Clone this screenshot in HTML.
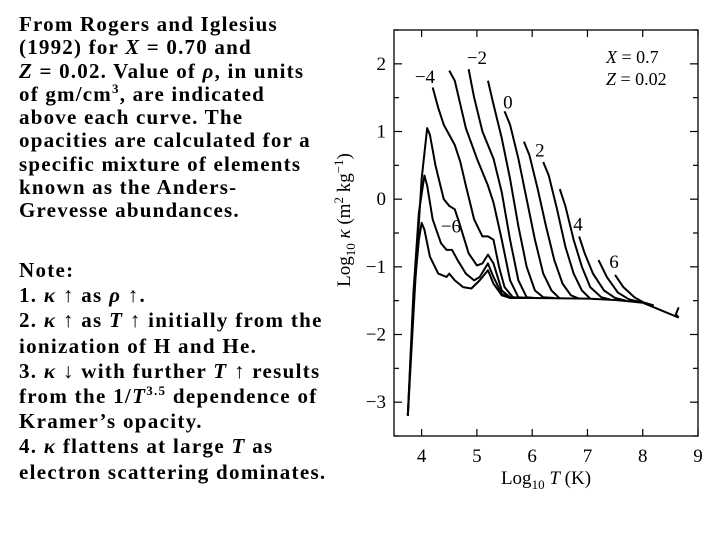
<!DOCTYPE html>
<html><head><meta charset="utf-8">
<style>
body{margin:0;background:#fff;width:720px;height:540px;overflow:hidden;position:relative;font-family:"Liberation Serif",serif;}
#txt{position:absolute;left:19px;top:13px;font-weight:bold;font-size:21px;letter-spacing:1.2px;line-height:23.3px;color:#000;white-space:nowrap;}
#note{position:absolute;left:19px;top:258px;font-weight:bold;font-size:21px;letter-spacing:1.3px;line-height:25.2px;color:#000;white-space:nowrap;}
sup{font-size:13px;line-height:0}
svg{position:absolute;left:0;top:0}
</style></head><body>
<div id="txt">From Rogers and Iglesius<br>(1992) for <i>X</i> = 0.70 and<br><i>Z</i> = 0.02. Value of <i>ρ</i>, in units<br>of gm/cm<sup>3</sup>, are indicated<br>above each curve. The<br>opacities are calculated for a<br>specific mixture of elements<br>known as the Anders-<br>Grevesse abundances.</div>
<div id="note">Note:<br>1. <i>κ</i> ↑ as <i>ρ</i> ↑.<br>2. <i>κ</i> ↑ as <i>T</i> ↑ initially from the<br>ionization of H and He.<br>3. <i>κ</i> ↓ with further <i>T</i> ↑ results<br>from the 1/<i>T</i><sup>3.5</sup> dependence of<br>Kramer’s opacity.<br>4. <i>κ</i> flattens at large <i>T</i> as<br>electron scattering dominates.</div>
<svg id="chart" width="720" height="540"></svg>
<script>
const xTicks=[4,5,6,7,8,9];
const yTicks=[2,1,0,-1,-2,-3];
const yTickLabels=["2","1","0","\u22121","\u22122","\u22123"];
const curve0=[[3.75,-3.2],[3.85,-1.5],[3.95,-0.6],[4.0,-0.35],[4.05,-0.45],[4.15,-0.85],[4.3,-1.1],[4.45,-1.15],[4.5,-1.1],[4.6,-1.2],[4.75,-1.3],[4.9,-1.32],[5.05,-1.2],[5.2,-1.05],[5.3,-1.25],[5.45,-1.42],[5.6,-1.46],[6,-1.46],[7,-1.47],[7.5,-1.49],[8,-1.53],[8.65,-1.75]];
const curve1=[[3.75,-3.2],[3.85,-1.4],[3.95,-0.2],[4.05,0.35],[4.1,0.2],[4.2,-0.3],[4.35,-0.65],[4.45,-0.75],[4.55,-0.75],[4.65,-0.9],[4.8,-1.1],[4.95,-1.2],[5.05,-1.15],[5.2,-0.95],[5.3,-1.15],[5.45,-1.4],[5.6,-1.46],[6,-1.46]];
const curve2=[[3.75,-3.2],[3.9,-1.0],[4.0,0.3],[4.1,1.05],[4.15,0.95],[4.25,0.5],[4.4,0.0],[4.5,-0.1],[4.6,-0.15],[4.7,-0.4],[4.85,-0.8],[5.0,-0.98],[5.1,-0.95],[5.2,-0.82],[5.3,-0.95],[5.45,-1.35],[5.6,-1.45],[6,-1.46]];
const curve3=[[4.2,1.65],[4.3,1.35],[4.4,1.1],[4.5,0.95],[4.6,0.8],[4.7,0.55],[4.8,0.2],[4.95,-0.3],[5.1,-0.55],[5.2,-0.55],[5.3,-0.6],[5.4,-1.0],[5.5,-1.3],[5.65,-1.45],[5.8,-1.46]];
const curve4=[[4.5,1.9],[4.6,1.75],[4.7,1.4],[4.8,1.05],[5.0,0.6],[5.2,0.2],[5.3,-0.05],[5.45,-0.6],[5.6,-1.2],[5.75,-1.45],[5.9,-1.46]];
const curve5=[[4.85,1.92],[4.95,1.5],[5.1,1.0],[5.3,0.6],[5.45,0.1],[5.6,-0.6],[5.75,-1.2],[5.9,-1.45],[6.05,-1.46]];
const curve6=[[5.2,1.75],[5.3,1.4],[5.45,0.9],[5.6,0.3],[5.75,-0.4],[5.9,-1.0],[6.05,-1.35],[6.2,-1.45],[6.4,-1.46]];
const curve7=[[5.5,1.3],[5.6,1.1],[5.75,0.6],[5.9,0.0],[6.05,-0.6],[6.2,-1.1],[6.35,-1.35],[6.5,-1.47]];
const curve8=[[5.85,0.85],[5.95,0.65],[6.1,0.15],[6.25,-0.4],[6.4,-0.9],[6.55,-1.25],[6.7,-1.42],[6.85,-1.47]];
const curve9=[[6.2,0.55],[6.3,0.35],[6.45,-0.15],[6.6,-0.7],[6.75,-1.1],[6.9,-1.35],[7.05,-1.47]];
const curve10=[[6.5,0.15],[6.6,-0.1],[6.75,-0.6],[6.9,-1.0],[7.05,-1.3],[7.25,-1.45],[7.4,-1.48]];
const curve11=[[6.85,-0.55],[6.95,-0.8],[7.1,-1.1],[7.3,-1.35],[7.5,-1.46],[7.7,-1.5]];
const curve12=[[7.2,-0.9],[7.35,-1.15],[7.55,-1.38],[7.75,-1.48],[7.95,-1.52]];
const curve13=[[7.5,-1.12],[7.65,-1.3],[7.85,-1.45],[8.0,-1.52],[8.2,-1.57]];
const hook=[[8.65,-1.6],[8.6,-1.7],[8.65,-1.75]];
const curves=[curve0,curve1,curve2,curve3,curve4,curve5,curve6,curve7,curve8,curve9,curve10,curve11,curve12,curve13,hook];
const rhoLabels=["\u22126","\u22124","\u22122","0","2","4","6"];
const rhoLabelPos=[[4.53,-0.49],[4.06,1.72],[5.0,2.0],[5.56,1.34],[6.14,0.63],[6.83,-0.46],[7.48,-1.02]];

const L=394,R=698,T=30,B=436,X0=3.5,X1=9,Y0=-3.5,Y1=2.5;
const sx=v=>L+(v-X0)/(X1-X0)*(R-L);
const sy=v=>B-(v-Y0)/(Y1-Y0)*(B-T);
const svg=document.getElementById('chart');
const NS='http://www.w3.org/2000/svg';
function mk(tag,attrs,txt){const e=document.createElementNS(NS,tag);for(const k in attrs)e.setAttribute(k,attrs[k]);if(txt!==undefined)e.textContent=txt;svg.appendChild(e);return e;}
let f=mk('rect',{x:L,y:T,width:R-L,height:B-T,fill:'none',stroke:'#000','stroke-width':1.3});


xTicks.forEach(v=>{
  const l1=mk('line',{x1:sx(v),x2:sx(v),y1:B,y2:B-7,stroke:'#000','stroke-width':1.2});
  
  
  const l2=mk('line',{x1:sx(v),x2:sx(v),y1:T,y2:T+7,stroke:'#000','stroke-width':1.2});
  
  
  const t=mk('text',{x:sx(v),y:B+26,'text-anchor':'middle','font-size':19},String(v));
  
  
});
for(let v=-3.5;v<=2.5;v+=0.5){
  const major=Number.isInteger(v);const len=major?8:5;
  const a=mk('line',{x1:L,x2:L+len,y1:sy(v),y2:sy(v),stroke:'#000','stroke-width':1.2});
  
  
  const b=mk('line',{x1:R,x2:R-len,y1:sy(v),y2:sy(v),stroke:'#000','stroke-width':1.2});
  
  
}
yTicks.forEach((v,i)=>{
  const t=mk('text',{x:386,y:sy(v)+6,'text-anchor':'end','font-size':19},yTickLabels[i]);
  
  
});
curves.forEach(c=>{
  const p=mk('polyline',{points:c.map(q=>sx(q[0])+','+sy(q[1])).join(' '),fill:'none',stroke:'#000','stroke-width':2,'stroke-linejoin':'round'});
  
  
});
rhoLabels.forEach((s,i)=>{
  const t=mk('text',{x:sx(rhoLabelPos[i][0]),y:sy(rhoLabelPos[i][1]),'text-anchor':'middle','font-size':19},s);
  
  
});
let t1=mk('text',{x:606,y:63,'font-size':18},'');
t1.innerHTML='<tspan font-style="italic">X</tspan> = 0.7';


let t2=mk('text',{x:606,y:85,'font-size':18},'');
t2.innerHTML='<tspan font-style="italic">Z</tspan> = 0.02';


let xt=mk('text',{x:546,y:484,'text-anchor':'middle','font-size':19},'');
xt.innerHTML='Log<tspan font-size="13" dy="5">10</tspan><tspan dy="-5"> </tspan><tspan font-style="italic">T</tspan> (K)';


let yt=mk('text',{x:0,y:0,'text-anchor':'middle','font-size':19,transform:'translate(350,220) rotate(-90)'},'');
yt.innerHTML='Log<tspan font-size="13" dy="5">10</tspan><tspan dy="-5"> </tspan><tspan font-style="italic">κ</tspan> (m<tspan font-size="13" dy="-7">2</tspan><tspan dy="7"> kg</tspan><tspan font-size="13" dy="-7">−1</tspan><tspan dy="7">)</tspan>';


</script>
</body></html>
